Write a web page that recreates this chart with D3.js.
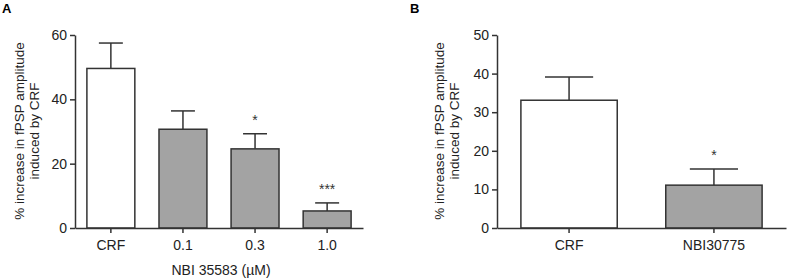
<!DOCTYPE html>
<html>
  <head>
    <meta charset="utf-8" />
    <script src="https://d3js.org/d3.v7.min.js"></script>
    <style>
      body { margin: 0; background: #fff; }
      svg { font-family: "Liberation Sans", Arial, sans-serif; }
      .axis path, .axis line { stroke: #333; stroke-width: 1.5; }
      .axis text { font-size: 14px; fill: #222; }
    </style>
  </head>
  <body>
    <div id="chart"></div>
    <script>
      // panel A data
      const catsA = ["CRF", "0.1", "0.3", "1.0"];
      const meanA = [49.6, 30.7, 24.6, 5.3];
      const errA = [7.9, 5.7, 4.7, 2.5];
      const starsA = ["", "", "*", "***"];
      const ticksA = [0, 20, 40, 60];

      // panel B data
      const catsB = ["CRF", "NBI30775"];
      const meanB = [33.1, 11.1];
      const errB = [6.0, 4.2];
      const starsB = ["", "*"];
      const ticksB = [0, 10, 20, 30, 40, 50];

      const svg = d3.select("#chart").append("svg")
        .attr("width", 787).attr("height", 279);

      function panel(opt) {
        const x = d3.scaleBand().domain(opt.cats).range(opt.xr)
          .paddingInner(0.335).paddingOuter(0.165);
        const y = d3.scaleLinear().domain(opt.ydom).range([228, 35]);
        const g = svg.append("g");

        const rows = opt.cats.map((c, i) => ({ c, m: opt.mean[i], e: opt.err[i], s: opt.stars[i] }));

        // error bars first, the bar covers the lower half
        const cap = x.bandwidth() / 2;
        rows.forEach((d) => {
          const cx = x(d.c) + x.bandwidth() / 2;
          g.append("line").attr("x1", cx).attr("x2", cx)
            .attr("y1", y(d.m)).attr("y2", y(d.m + d.e))
            .attr("stroke", "#333").attr("stroke-width", 1.5);
          g.append("line").attr("x1", cx - cap / 2).attr("x2", cx + cap / 2)
            .attr("y1", y(d.m + d.e)).attr("y2", y(d.m + d.e))
            .attr("stroke", "#333").attr("stroke-width", 1.5);
          if (d.s) {
            g.append("text").attr("x", cx).attr("y", y(d.m + d.e) - 9)
              .attr("text-anchor", "middle").attr("font-size", 14)
              .attr("fill", "#333").text(d.s);
          }
        });

        g.selectAll(".bar").data(rows).join("rect")
          .attr("x", (d) => x(d.c)).attr("width", x.bandwidth())
          .attr("y", (d) => y(d.m)).attr("height", (d) => y(0) - y(d.m))
          .attr("fill", (d, i) => (i === 0 ? "#fff" : "#a3a3a3"))
          .attr("stroke", "#333").attr("stroke-width", 1.5);

        g.append("g").attr("class", "axis")
          .attr("transform", `translate(0,${y(0)})`)
          .call(d3.axisBottom(x).tickSize(5).tickSizeOuter(0).tickPadding(7));

        g.append("g").attr("class", "axis")
          .attr("transform", `translate(${opt.xr[0]},0)`)
          .call(d3.axisLeft(y).tickValues(opt.ticks).tickSize(5).tickSizeOuter(0).tickPadding(3));

        // y title
        const yt = g.append("text").attr("text-anchor", "middle")
          .attr("font-size", 13.5).attr("fill", "#222")
          .attr("transform", `translate(${opt.ytx},131) rotate(-90)`);
        yt.append("tspan").attr("x", 0).attr("dy", 0).text("% increase in fPSP amplitude");
        yt.append("tspan").attr("x", 0).attr("dy", 15).text("induced by CRF");

        if (opt.xtitle) {
          g.append("text").attr("x", (opt.xr[0] + opt.xr[1]) / 2 + 2).attr("y", 275)
            .attr("text-anchor", "middle").attr("font-size", 14).attr("fill", "#222")
            .text(opt.xtitle);
        }

        g.append("text").attr("x", opt.lx).attr("y", 13)
          .attr("font-size", 13).attr("font-weight", "bold").text(opt.label);
      }

      panel({ cats: catsA, mean: meanA, err: errA, stars: starsA, ticks: ticksA,
        ydom: [0, 60], xr: [75, 363], ytx: 24, xtitle: "NBI 35583 (\u00b5M)", label: "A", lx: 2 });
      panel({ cats: catsB, mean: meanB, err: errB, stars: starsB, ticks: ticksB,
        ydom: [0, 50], xr: [497, 786], ytx: 444, xtitle: "", label: "B", lx: 410 });
    </script>
  </body>
</html>
